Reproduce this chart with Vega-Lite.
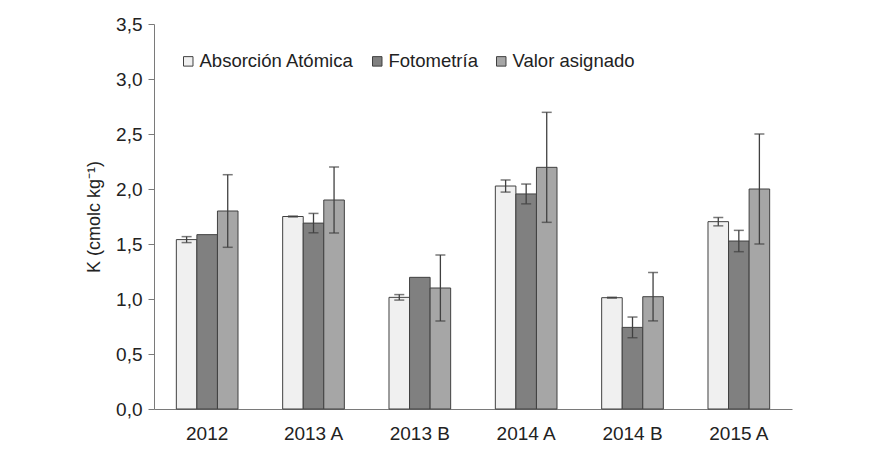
{
  "$schema": "https://vega.github.io/schema/vega-lite/v6.json",
  "width": 638,
  "height": 385,
  "autosize": {"type": "none"},
  "padding": {"left": 154, "top": 24, "right": 104, "bottom": 45},
  "background": "white",
  "config": {
    "font": "Liberation Sans",
    "view": {"stroke": null},
    "axis": {"labelColor": "#222", "titleColor": "#222", "domainColor": "#7a7a7a", "tickColor": "#7a7a7a", "grid": false}
  },
  "data": {
    "values": [
      {"g": "2012", "m": "Absorción Atómica", "v": 1.54, "e": 0.027},
      {"g": "2012", "m": "Fotometría", "v": 1.585, "e": 0},
      {"g": "2012", "m": "Valor asignado", "v": 1.80, "e": 0.33},
      {"g": "2013 A", "m": "Absorción Atómica", "v": 1.75, "e": 0.004},
      {"g": "2013 A", "m": "Fotometría", "v": 1.69, "e": 0.088},
      {"g": "2013 A", "m": "Valor asignado", "v": 1.90, "e": 0.30},
      {"g": "2013 B", "m": "Absorción Atómica", "v": 1.015, "e": 0.025},
      {"g": "2013 B", "m": "Fotometría", "v": 1.197, "e": 0},
      {"g": "2013 B", "m": "Valor asignado", "v": 1.10, "e": 0.30},
      {"g": "2014 A", "m": "Absorción Atómica", "v": 2.027, "e": 0.055},
      {"g": "2014 A", "m": "Fotometría", "v": 1.955, "e": 0.09},
      {"g": "2014 A", "m": "Valor asignado", "v": 2.197, "e": 0.50},
      {"g": "2014 B", "m": "Absorción Atómica", "v": 1.012, "e": 0.004},
      {"g": "2014 B", "m": "Fotometría", "v": 0.742, "e": 0.094},
      {"g": "2014 B", "m": "Valor asignado", "v": 1.021, "e": 0.22},
      {"g": "2015 A", "m": "Absorción Atómica", "v": 1.703, "e": 0.038},
      {"g": "2015 A", "m": "Fotometría", "v": 1.527, "e": 0.097},
      {"g": "2015 A", "m": "Valor asignado", "v": 2.0, "e": 0.50}
    ]
  },
  "encoding": {
    "x": {
      "field": "g", "type": "nominal", "sort": null,
      "scale": {"paddingInner": 0.42, "paddingOuter": 0.21},
      "axis": {"title": null, "labelAngle": 0, "ticks": false, "labelPadding": 15, "labelFontSize": 19}
    },
    "xOffset": {"field": "m", "type": "nominal", "sort": ["Absorción Atómica", "Fotometría", "Valor asignado"]}
  },
  "layer": [
    {
      "mark": {"type": "bar", "stroke": "#404040", "strokeWidth": 1},
      "encoding": {
        "y": {
          "field": "v", "type": "quantitative",
          "scale": {"domain": [0, 3.5], "nice": false},
          "axis": {
            "title": "K (cmolc kg⁻¹)", "titleFontSize": 18, "titleFontWeight": "normal", "titlePadding": 12,
            "values": [0, 0.5, 1, 1.5, 2, 2.5, 3, 3.5],
            "labelExpr": "replace(format(datum.value, '.1f'), '.', ',')",
            "labelFontSize": 19, "tickSize": 6, "labelPadding": 6
          }
        },
        "fill": {
          "field": "m", "type": "nominal",
          "scale": {"domain": ["Absorción Atómica", "Fotometría", "Valor asignado"], "range": ["#f0f0f0", "#808080", "#a6a6a6"]},
          "legend": {
            "title": null, "orient": "none", "direction": "horizontal",
            "legendX": 25, "legendY": 28,
            "symbolType": "square", "symbolSize": 90, "symbolStrokeColor": "#404040", "symbolStrokeWidth": 1,
            "labelFontSize": 18.5, "labelColor": "#222", "labelOffset": 2, "columnPadding": 14
          }
        }
      }
    },
    {
      "transform": [{"filter": "datum.e > 0"}, {"calculate": "datum.v - datum.e", "as": "lo"}, {"calculate": "datum.v + datum.e", "as": "hi"}],
      "layer": [
        {
          "mark": {"type": "rule", "color": "#404040", "strokeWidth": 1.3},
          "encoding": {"y": {"field": "lo", "type": "quantitative"}, "y2": {"field": "hi"}}
        },
        {
          "mark": {"type": "tick", "color": "#404040", "size": 10, "thickness": 1.5},
          "encoding": {"y": {"field": "lo", "type": "quantitative"}}
        },
        {
          "mark": {"type": "tick", "color": "#404040", "size": 10, "thickness": 1.5},
          "encoding": {"y": {"field": "hi", "type": "quantitative"}}
        }
      ]
    }
  ]
}
